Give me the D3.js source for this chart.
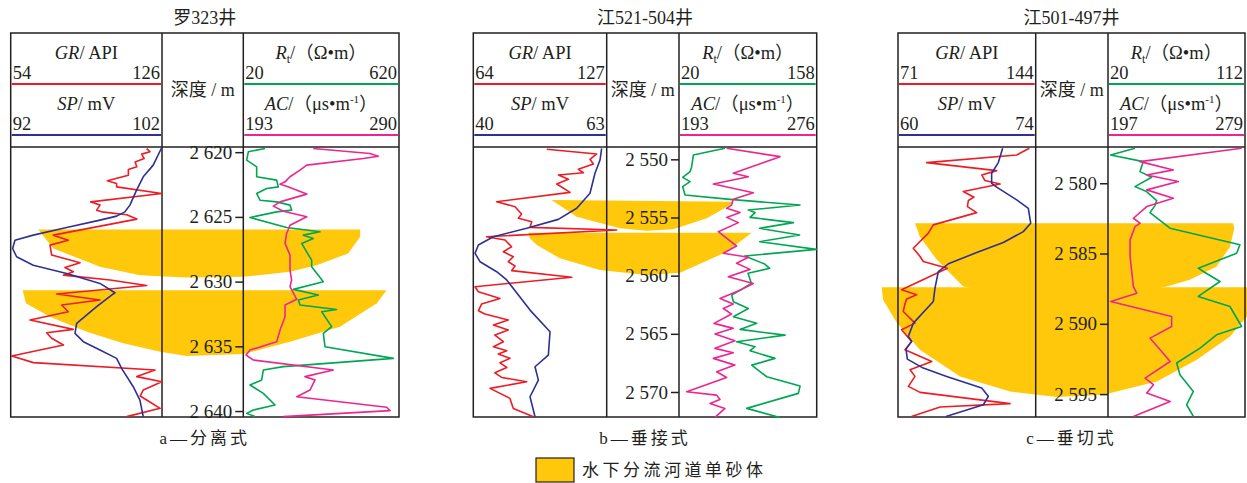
<!DOCTYPE html>
<html>
<head>
<meta charset="utf-8">
<script src="https://cdn.jsdelivr.net/npm/d3@7"></script>
<style>
body { margin: 0; background: #fff; }
text { font-family: "Liberation Serif", "Times New Roman", "Noto Sans CJK SC", serif; fill: #231f20; }
</style>
</head>
<body>
<script>
// ---- data ----
var wells = ["罗323井", "江521-504井", "江501-497井"];
var captions = ["a—分离式", "b—垂接式", "c—垂切式"];
var grRange = [[54, 126], [64, 127], [71, 144]];
var spRange = [[92, 102], [40, 63], [60, 74]];
var rtRange = [[20, 620], [20, 158], [20, 112]];
var acRange = [[193, 290], [193, 276], [197, 279]];
var depthDomain = [[2619.6, 2640.46], [2548.94, 2572.15], [2577.42, 2596.63]];
var depthTicks = [[2620, 2625, 2630, 2635, 2640], [2550, 2555, 2560, 2565, 2570], [2580, 2585, 2590, 2595]];
var legendLabel = "水下分流河道单砂体";

// curves: [depth m, value]
var grA = [[2619.72,118.7],[2619.97,120.3],[2620.15,116.3],[2620.49,117.5],[2620.75,113.2],[2621.13,114.0],[2621.34,110.0],[2621.78,110.0],[2622.21,100.0],[2622.42,104.4],[2622.68,104.4],[2623.19,125.9],[2623.84,92.1],[2624.09,96.5],[2624.48,94.9],[2624.61,97.3],[2624.84,109.2],[2625.17,114.0],[2626.41,74.3],[2626.80,81.4],[2627.18,72.7],[2627.95,73.5],[2628.55,87.0],[2628.91,79.8],[2629.24,83.8],[2629.50,79.1],[2629.88,101.3],[2630.30,118.7],[2630.96,75.9],[2631.42,96.5],[2631.81,78.3],[2632.33,81.4],[2632.97,63.2],[2633.69,83.8],[2633.95,71.1],[2634.38,73.5],[2634.90,79.1],[2635.75,54.5],[2636.26,64.8],[2636.83,122.7],[2637.34,114.0],[2637.73,125.9],[2638.37,117.1],[2638.84,115.6],[2639.15,118.7],[2639.79,125.1],[2640.43,109.2]];
var spA = [[2619.6,102.0],[2621.00,101.42],[2621.90,100.76],[2622.93,100.32],[2624.09,99.88],[2624.61,99.55],[2624.94,99.00],[2625.25,97.90],[2625.82,95.70],[2626.41,93.49],[2626.80,92.28],[2627.44,92.13],[2628.08,92.39],[2628.73,93.49],[2629.37,95.70],[2630.14,97.90],[2630.86,98.89],[2631.04,98.67],[2631.94,97.68],[2633.23,96.36],[2634.00,96.25],[2634.64,96.80],[2635.29,97.90],[2635.93,99.00],[2636.70,99.33],[2638.12,100.10],[2639.15,100.54],[2640.43,100.76]];
var rtA = [[2619.72,103.6],[2619.97,39.4],[2620.62,33.0],[2621.13,71.5],[2621.90,71.5],[2622.16,148.6],[2622.68,155.0],[2622.81,110.0],[2623.19,71.5],[2623.71,84.3],[2623.84,148.6],[2624.09,199.9],[2624.48,206.4],[2624.61,148.6],[2625.05,45.8],[2625.82,187.1],[2626.15,315.5],[2626.41,251.3],[2626.67,289.8],[2627.05,244.9],[2627.70,264.1],[2628.34,283.4],[2628.85,283.4],[2630.01,328.4],[2630.60,212.8],[2631.04,309.1],[2631.42,232.0],[2631.81,238.5],[2632.15,379.7],[2632.33,322.0],[2633.48,360.5],[2634.00,328.4],[2635.03,334.8],[2635.93,598.1],[2636.57,174.2],[2636.83,97.2],[2637.60,90.8],[2637.99,45.8],[2638.63,97.2],[2639.53,142.1],[2639.92,58.6],[2640.18,33.0],[2640.43,65.1]];
var acA = [[2619.72,236.6],[2620.10,271.9],[2620.31,277.1],[2620.49,267.8],[2621.00,232.5],[2621.39,228.3],[2621.90,222.1],[2622.29,219.0],[2622.47,215.9],[2622.63,220.0],[2623.24,232.5],[2623.84,215.9],[2624.17,211.7],[2624.56,218.0],[2624.99,232.5],[2625.64,222.1],[2626.28,220.0],[2627.05,219.0],[2627.95,222.1],[2629.11,222.1],[2629.88,223.1],[2630.39,222.1],[2631.37,226.3],[2631.81,219.0],[2632.71,219.0],[2633.74,215.9],[2634.64,213.8],[2635.29,197.2],[2635.67,194.7],[2636.06,199.3],[2636.83,249.1],[2637.34,231.4],[2637.60,237.7],[2638.37,234.6],[2638.89,226.3],[2639.71,282.3],[2639.97,284.4],[2640.43,217.9]];

var grB = [[2549.14,98.7],[2549.54,122.3],[2550.00,119.1],[2550.40,120.7],[2550.86,113.6],[2551.15,116.0],[2551.35,104.2],[2551.72,108.9],[2552.12,103.4],[2552.84,109.7],[2553.64,75.0],[2554.07,83.7],[2554.70,86.8],[2555.07,85.3],[2555.36,91.6],[2555.85,90.8],[2556.07,131.7],[2556.65,70.3],[2556.93,79.0],[2557.51,82.1],[2557.94,78.2],[2558.37,82.9],[2558.80,80.5],[2559.17,83.7],[2559.57,82.1],[2560.14,110.5],[2560.95,64.8],[2561.38,66.4],[2561.96,76.6],[2562.44,67.9],[2563.02,66.4],[2563.30,69.5],[2563.82,80.5],[2564.25,73.5],[2564.68,80.5],[2565.11,74.2],[2565.68,78.2],[2566.11,73.5],[2566.45,79.8],[2566.74,75.8],[2567.11,81.3],[2567.49,76.6],[2567.89,79.8],[2568.35,74.2],[2568.75,77.4],[2569.12,89.2],[2569.69,71.9],[2570.55,81.3],[2571.41,82.9],[2572.13,92.4]];
var spB = [[2549.05,62.13],[2550.06,61.85],[2551.20,60.98],[2552.92,60.12],[2554.21,57.83],[2555.16,54.66],[2555.93,49.20],[2556.65,43.46],[2557.36,40.87],[2558.08,40.30],[2558.80,41.16],[2559.66,44.03],[2560.37,45.76],[2562.96,49.78],[2564.82,53.23],[2566.83,52.94],[2567.83,50.64],[2568.98,51.22],[2570.41,49.78],[2572.13,50.64]];
var rtB = [[2549.05,66.1],[2549.63,34.4],[2550.63,32.7],[2551.06,31.1],[2551.55,23.7],[2551.92,31.1],[2552.35,23.7],[2553.07,26.1],[2553.44,71.1],[2553.93,141.3],[2554.36,89.5],[2554.58,96.2],[2554.99,91.2],[2555.44,134.6],[2555.93,100.9],[2556.50,140.9],[2557.08,100.9],[2557.74,157.7],[2558.31,85.8],[2559.00,105.9],[2559.37,110.9],[2559.80,89.2],[2560.66,92.5],[2561.67,72.8],[2562.24,74.5],[2562.82,89.5],[2563.53,74.5],[2564.10,97.9],[2564.62,81.2],[2565.11,126.3],[2565.68,77.8],[2566.11,96.2],[2566.45,91.2],[2567.11,116.2],[2567.69,92.9],[2568.69,107.9],[2569.49,141.3],[2570.12,139.6],[2571.41,87.8],[2572.19,121.2]];
var acB = [[2549.05,221.7],[2549.77,253.9],[2550.34,242.8],[2551.20,225.7],[2551.49,234.8],[2552.12,213.7],[2552.87,237.8],[2553.44,225.7],[2553.93,224.7],[2554.21,221.7],[2554.58,229.8],[2554.99,221.7],[2555.44,228.8],[2556.22,216.7],[2557.45,227.7],[2558.08,219.7],[2558.42,234.8],[2558.94,227.7],[2559.46,235.8],[2560.09,222.7],[2560.67,237.8],[2561.18,230.8],[2561.96,217.7],[2562.44,225.7],[2562.82,219.7],[2563.30,224.7],[2564.10,214.1],[2564.53,225.7],[2565.02,214.7],[2565.60,226.7],[2566.25,214.7],[2566.63,225.7],[2567.11,213.7],[2567.69,226.7],[2568.26,215.7],[2568.75,221.7],[2569.98,197.6],[2570.27,215.7],[2570.64,217.7],[2570.98,211.7],[2571.41,220.7],[2572.19,214.7]];

var grC = [[2577.51,140.6],[2577.99,133.9],[2578.53,86.2],[2579.10,123.3],[2579.41,115.4],[2579.81,117.1],[2580.05,125.1],[2580.59,105.6],[2580.99,111.3],[2581.23,108.3],[2581.66,107.8],[2582.09,112.7],[2582.96,89.7],[2583.55,87.1],[2584.62,79.1],[2585.21,82.7],[2585.57,84.4],[2586.04,97.2],[2587.58,72.9],[2587.94,80.9],[2588.24,75.6],[2588.58,74.7],[2589.12,73.8],[2589.95,80.0],[2590.42,72.9],[2591.25,78.2],[2591.85,74.7],[2592.68,88.9],[2593.27,77.4],[2593.74,80.0],[2594.45,76.5],[2594.88,82.7],[2595.68,130.4],[2595.92,93.3],[2596.59,78.2]];
var spC = [[2577.51,70.64],[2578.53,70.20],[2579.29,69.52],[2580.00,69.52],[2580.28,70.03],[2581.18,72.07],[2581.78,73.25],[2582.84,73.49],[2583.44,72.74],[2584.22,70.71],[2584.93,68.00],[2585.73,65.12],[2586.28,64.10],[2587.46,63.76],[2588.41,63.59],[2589.95,61.56],[2590.90,61.05],[2591.25,61.39],[2591.80,60.81],[2592.51,60.95],[2593.15,62.57],[2593.74,64.95],[2594.57,68.51],[2595.16,69.18],[2595.76,68.68],[2596.59,64.88]];
var rtC = [[2577.51,38.1],[2577.99,21.8],[2578.46,43.7],[2579.17,41.5],[2579.57,49.3],[2580.24,38.1],[2580.59,45.9],[2581.23,52.7],[2581.59,51.5],[2582.09,48.2],[2583.20,61.6],[2584.38,108.6],[2584.98,106.4],[2586.04,80.6],[2586.35,85.1],[2586.99,95.2],[2588.05,80.6],[2588.77,101.9],[2590.19,109.7],[2590.78,92.9],[2591.73,81.8],[2592.79,66.1],[2593.62,68.3],[2594.81,77.3],[2595.76,72.8],[2596.59,77.3]];
var acC = [[2577.51,277.0],[2578.46,216.2],[2579.05,236.1],[2579.41,220.2],[2579.88,239.1],[2580.47,220.2],[2581.07,236.1],[2581.66,220.2],[2582.49,212.2],[2582.84,216.2],[2583.08,213.2],[2584.03,210.2],[2585.21,210.2],[2586.28,211.2],[2587.35,212.2],[2587.82,214.2],[2588.41,198.6],[2589.48,235.1],[2590.19,235.1],[2591.02,222.2],[2591.85,228.2],[2592.68,234.2],[2593.86,219.2],[2594.33,224.2],[2594.93,220.2],[2595.52,234.2],[2596.59,212.2]];

// sand bodies: [lateral position across the well panel (0 = left edge, 1 = right edge), depth m]
var sandA = [
  [[0.071,2625.97],[0.110,2627.44],[0.230,2628.86],[0.333,2629.50],[0.453,2629.68],[0.599,2629.63],[0.719,2629.24],[0.788,2628.73],[0.869,2627.82],[0.900,2626.54],[0.900,2625.97]],
  [[0.031,2630.66],[0.039,2631.68],[0.101,2632.72],[0.196,2633.88],[0.290,2634.77],[0.385,2635.42],[0.453,2635.75],[0.599,2635.60],[0.719,2634.65],[0.848,2633.49],[0.943,2631.68],[0.968,2630.66]]
];
var sandB = [
  [[0.228,2553.50],[0.301,2554.94],[0.427,2555.93],[0.505,2556.14],[0.582,2556.02],[0.680,2555.07],[0.757,2553.78],[0.757,2553.65]],
  [[0.160,2556.31],[0.165,2556.79],[0.185,2557.37],[0.252,2558.51],[0.369,2559.52],[0.505,2559.95],[0.602,2559.75],[0.738,2557.95],[0.811,2556.31]]
];
var sandC = [
  [[0.049,2582.84],[0.063,2583.80],[0.112,2585.45],[0.188,2587.35],[0.496,2588.65],[0.774,2587.35],[0.841,2586.87],[0.918,2585.93],[0.957,2584.51],[0.969,2583.20],[0.966,2582.84]],
  [[-0.047,2587.39],[-0.043,2588.29],[-0.003,2589.95],[0.063,2591.85],[0.179,2593.75],[0.323,2594.81],[0.457,2595.21],[0.592,2595.05],[0.746,2594.10],[0.861,2592.56],[0.957,2590.90],[1.006,2589.48],[1.006,2587.39]]
];

var grData = [grA, grB, grC];
var spData = [spA, spB, spC];
var rtData = [rtA, rtB, rtC];
var acData = [acA, acB, acC];
var sandData = [sandA, sandB, sandC];

// ---- layout ----
var ink = "#231f20";
var sandColour = "#ffc80b";
var colours = {gr: "#ed1c24", sp: "#2e3192", rt: "#00a651", ac: "#ec268f"};
var boxTop = 33, headBottom = 147, boxBottom = 417;
var panels = [
  {x0: 10.7, x1: 162, x2: 243.3, x3: 399},
  {x0: 473.3, x1: 606.7, x2: 679, x3: 816.7},
  {x0: 898, x1: 1035.7, x2: 1108, x3: 1245}
];

var svg = d3.select("body")
    .append("svg")
    .attr("width", 1247)
    .attr("height", 483);

function headerLabel(g, x, y, parts) {
  var t = g.append("text")
      .attr("x", x).attr("y", y)
      .attr("text-anchor", "middle")
      .style("font-size", "18.5px");
  parts.forEach(function(p) {
    var s = t.append("tspan").text(p.t);
    if (p.italic) s.style("font-style", "italic");
    if (p.size) s.style("font-size", p.size + "px");
    if (p.dy) s.attr("dy", p.dy);
  });
}

panels.forEach(function(p, i) {
  var g = svg.append("g");

  var y = d3.scaleLinear().domain(depthDomain[i]).range([headBottom, boxBottom]);
  var xGR = d3.scaleLinear().domain(grRange[i]).range([p.x0, p.x1]);
  var xSP = d3.scaleLinear().domain(spRange[i]).range([p.x0, p.x1]);
  var xRT = d3.scaleLinear().domain(rtRange[i]).range([p.x2, p.x3]);
  var xAC = d3.scaleLinear().domain(acRange[i]).range([p.x2, p.x3]);
  var lateral = d3.scaleLinear().domain([0, 1]).range([p.x0, p.x3]);

  // sand bodies underneath everything
  var sandLine = d3.line()
      .x(function(d) { return lateral(d[0]); })
      .y(function(d) { return y(d[1]); });
  g.selectAll(".sand")
    .data(sandData[i])
    .enter().append("path")
      .attr("class", "sand")
      .attr("d", function(d) { return sandLine(d) + "Z"; })
      .style("fill", sandColour);

  // frame
  g.append("rect")
      .attr("x", p.x0).attr("y", boxTop)
      .attr("width", p.x3 - p.x0).attr("height", boxBottom - boxTop)
      .style("fill", "none").style("stroke", ink).style("stroke-width", 1.5);
  [p.x1, p.x2].forEach(function(x) {
    g.append("line").attr("x1", x).attr("x2", x).attr("y1", boxTop).attr("y2", boxBottom)
        .style("stroke", ink).style("stroke-width", 1.5);
  });
  g.append("line").attr("x1", p.x0).attr("x2", p.x3).attr("y1", headBottom).attr("y2", headBottom)
      .style("stroke", ink).style("stroke-width", 1.5);

  // header curve keys
  var keys = [
    {x0: p.x0, x1: p.x1, yl: 84, c: colours.gr, r: grRange[i]},
    {x0: p.x0, x1: p.x1, yl: 135, c: colours.sp, r: spRange[i]},
    {x0: p.x2, x1: p.x3, yl: 84, c: colours.rt, r: rtRange[i]},
    {x0: p.x2, x1: p.x3, yl: 135, c: colours.ac, r: acRange[i]}
  ];
  keys.forEach(function(k) {
    g.append("line").attr("x1", k.x0 + 1).attr("x2", k.x1 - 1).attr("y1", k.yl).attr("y2", k.yl)
        .style("stroke", k.c).style("stroke-width", 2);
    g.append("text").attr("x", k.x0 + 2).attr("y", k.yl - 5).style("font-size", "18.5px").text(k.r[0]);
    g.append("text").attr("x", k.x1 - 2).attr("y", k.yl - 5).attr("text-anchor", "end")
        .style("font-size", "18.5px").text(k.r[1]);
  });

  var lc = (p.x0 + p.x1) / 2, rc = (p.x2 + p.x3) / 2;
  headerLabel(g, lc, 59, [{t: "GR", italic: true}, {t: "/ API"}]);
  headerLabel(g, lc, 110, [{t: "SP", italic: true}, {t: "/ mV"}]);
  headerLabel(g, rc, 59, [{t: "R", italic: true}, {t: "t", size: 12, dy: 4}, {t: "/（Ω•m）", dy: -4}]);
  headerLabel(g, rc, 110, [{t: "AC", italic: true}, {t: "/（μs•m"}, {t: "-1", size: 11, dy: -7}, {t: "）", dy: 7}]);

  g.append("text")
      .attr("x", (p.x1 + p.x2) / 2).attr("y", 96)
      .attr("text-anchor", "middle")
      .style("font-size", "18px")
      .text("深度 / m");

  // depth axis
  var axis = g.append("g")
      .attr("transform", "translate(" + p.x2 + ",0)")
      .call(d3.axisLeft(y)
        .tickValues(depthTicks[i])
        .tickSize(8)
        .tickPadding(3)
        .tickFormat(function(d) { return d3.format(",")(d).replace(",", " "); }));
  axis.select(".domain").remove();
  axis.selectAll("line").style("stroke", ink).style("stroke-width", 1.5);
  axis.selectAll("text")
      .style("font-family", "'Liberation Serif', 'Times New Roman', serif")
      .style("font-size", "19px")
      .style("fill", ink);

  // log curves
  var curves = [
    {data: grData[i], x: xGR, c: colours.gr},
    {data: spData[i], x: xSP, c: colours.sp},
    {data: rtData[i], x: xRT, c: colours.rt},
    {data: acData[i], x: xAC, c: colours.ac}
  ];
  curves.forEach(function(cv) {
    var line = d3.line()
        .x(function(d) { return cv.x(d[1]); })
        .y(function(d) { return y(d[0]); });
    g.append("path")
        .attr("d", line(cv.data))
        .style("fill", "none")
        .style("stroke", cv.c)
        .style("stroke-width", 1.6)
        .style("stroke-linejoin", "round");
  });

  // titles and captions
  var mid = (p.x0 + p.x3) / 2;
  g.append("text").attr("x", mid).attr("y", 24).attr("text-anchor", "middle")
      .style("font-size", "18px").text(wells[i]);
  g.append("text").attr("x", mid).attr("y", 444).attr("text-anchor", "middle")
      .style("font-size", "17px").style("letter-spacing", "3px").text(captions[i]);
});

// legend
svg.append("rect")
    .attr("x", 536).attr("y", 458)
    .attr("width", 38).attr("height", 24)
    .style("fill", sandColour).style("stroke", ink).style("stroke-width", 1.2);
svg.append("text")
    .attr("x", 582).attr("y", 476)
    .style("font-size", "17px")
    .style("letter-spacing", "3.5px")
    .text(legendLabel);
</script>
</body>
</html>
